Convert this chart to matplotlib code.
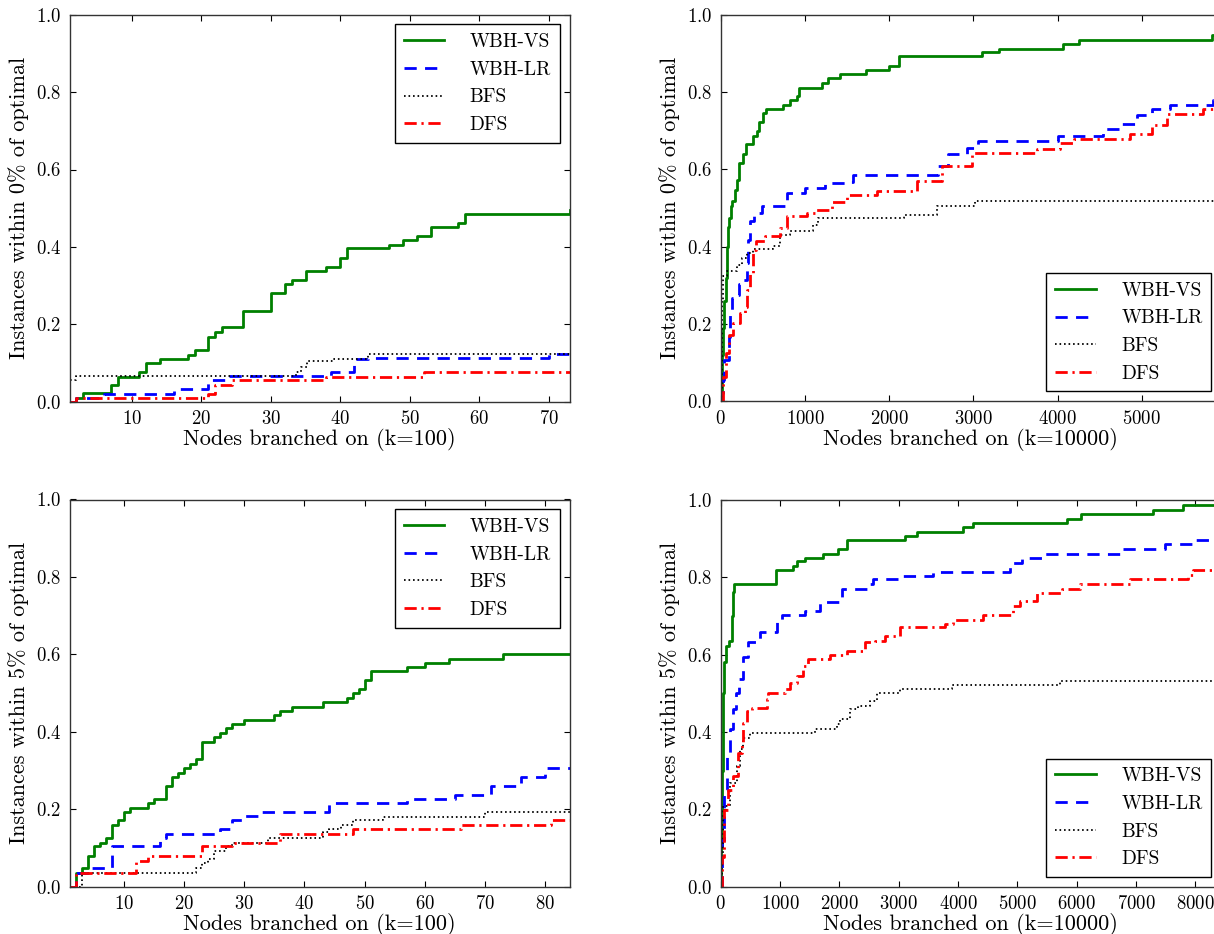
import matplotlib
matplotlib.use('Agg')
import matplotlib.pyplot as plt
from matplotlib.ticker import MultipleLocator

plt.rcParams['font.family'] = ['cmr10', 'DejaVu Serif']
plt.rcParams['mathtext.fontset'] = 'cm'
plt.rcParams['axes.formatter.use_mathtext'] = True

labels = ['WBH-VS', 'WBH-LR', 'BFS', 'DFS']

# top left: within 0%, k=100
tl_vs_x = [1, 2, 3, 7, 8, 11, 12, 14, 18, 19, 21, 22, 23, 26, 30, 32, 33, 35, 38, 40, 41, 47, 49, 51, 53, 57, 58, 73]
tl_vs_y = [0, 0.01, 0.022, 0.043, 0.065, 0.078, 0.101, 0.111, 0.121, 0.134, 0.167, 0.179, 0.192, 0.235, 0.281,
           0.305, 0.315, 0.338, 0.349, 0.372, 0.396, 0.405, 0.418, 0.429, 0.451, 0.461, 0.485, 0.495]
tl_lr_x = [1, 2, 6, 16, 21, 24, 38.6, 42, 44, 70]
tl_lr_y = [0, 0.01, 0.021, 0.032, 0.055, 0.066, 0.077, 0.11, 0.113, 0.123]
tl_bfs_x = [1, 2, 33.6, 34.3, 35.2, 39, 44]
tl_bfs_y = [0.057, 0.067, 0.078, 0.089, 0.104, 0.111, 0.122]
tl_dfs_x = [1, 2, 21, 22, 24.4, 38, 52]
tl_dfs_y = [0, 0.009, 0.019, 0.043, 0.055, 0.065, 0.078]

# top right: within 0%, k=10000
tr_vs_x = [0, 10, 20, 30, 45, 60, 75, 90, 102, 122, 140, 170, 194, 221, 261, 297, 387, 427, 455, 506, 538, 744,
           823, 910, 934, 1199, 1278, 1417, 1722, 1999, 2118, 3099, 3309, 4069, 4259, 5830]
tr_vs_y = [0, 0.06, 0.12, 0.19, 0.26, 0.32, 0.40, 0.45, 0.474, 0.505, 0.518, 0.548, 0.574, 0.617, 0.641, 0.665,
           0.686, 0.700, 0.723, 0.745, 0.756, 0.767, 0.779, 0.790, 0.812, 0.823, 0.836, 0.846, 0.857, 0.869,
           0.893, 0.903, 0.913, 0.926, 0.936, 0.949]
tr_lr_x = [0, 10, 24, 39, 102, 110, 130, 170, 221, 261, 309, 328, 348, 396, 487, 784, 1001, 1239, 1476, 1575,
           2584, 2703, 2921, 3060, 4000, 4544, 4742, 4940, 5119, 5336, 5850]
tr_lr_y = [0, 0.02, 0.055, 0.106, 0.167, 0.228, 0.267, 0.275, 0.304, 0.314, 0.358, 0.418, 0.466, 0.487, 0.506,
           0.539, 0.552, 0.565, 0.567, 0.587, 0.610, 0.639, 0.656, 0.673, 0.687, 0.706, 0.719, 0.740, 0.756,
           0.766, 0.780]
tr_bfs_x = [0, 12, 31, 71, 190, 249, 309, 387, 625, 704, 823, 1100, 1159, 2177, 2565, 3020]
tr_bfs_y = [0, 0.262, 0.323, 0.336, 0.353, 0.371, 0.384, 0.394, 0.401, 0.431, 0.440, 0.457, 0.474, 0.483,
            0.505, 0.518]
tr_dfs_x = [0, 31, 63, 102, 150, 229, 289, 309, 348, 387, 419, 526, 704, 791, 1021, 1120, 1318, 1496, 1852,
            2327, 2624, 2981, 3753, 4029, 4200, 4861, 5119, 5297, 5731]
tr_dfs_y = [0, 0.063, 0.124, 0.171, 0.202, 0.228, 0.245, 0.288, 0.332, 0.392, 0.414, 0.427, 0.449, 0.479,
            0.487, 0.496, 0.515, 0.535, 0.544, 0.570, 0.609, 0.642, 0.652, 0.668, 0.680, 0.691, 0.714, 0.743,
            0.756]

# bottom left: within 5%, k=100
bl_vs_x = [1, 2, 3, 4, 5, 6, 7, 8, 9, 10, 11, 14, 15, 17, 18, 19, 20, 21, 22, 23, 25, 26, 27, 28, 30, 35, 36,
           38, 43, 47, 48, 49, 50, 51, 57, 60, 64, 73]
bl_vs_y = [0, 0.035, 0.048, 0.080, 0.104, 0.114, 0.125, 0.160, 0.171, 0.193, 0.203, 0.216, 0.227, 0.261, 0.283,
           0.294, 0.306, 0.318, 0.330, 0.374, 0.387, 0.398, 0.409, 0.420, 0.431, 0.443, 0.454, 0.465, 0.478,
           0.487, 0.499, 0.510, 0.534, 0.556, 0.567, 0.578, 0.588, 0.600]
bl_lr_x = [1, 2, 4, 8, 16, 17, 26, 28, 30, 33, 44, 57, 65, 71, 76, 80]
bl_lr_y = [0, 0.035, 0.048, 0.104, 0.125, 0.136, 0.149, 0.171, 0.182, 0.193, 0.216, 0.227, 0.238, 0.260,
           0.283, 0.306]
bl_bfs_x = [1, 3, 22, 23, 24, 25, 27, 28, 34, 43, 44, 46, 48, 53, 70, 84]
bl_bfs_y = [0, 0.035, 0.048, 0.061, 0.071, 0.093, 0.104, 0.114, 0.125, 0.140, 0.149, 0.160, 0.171, 0.180,
            0.193, 0.199]
bl_dfs_x = [1, 2, 12, 14, 23, 28, 36, 48, 66, 81]
bl_dfs_y = [0, 0.035, 0.067, 0.080, 0.104, 0.114, 0.137, 0.149, 0.160, 0.172]

# bottom right: within 5%, k=10000
br_vs_x = [0, 5, 10, 17, 25, 34, 45, 56, 90, 146, 185, 213, 230, 933, 1225, 1281, 1421, 1730, 1983, 2124, 3107,
           3303, 4090, 4258, 5843, 6067, 7281, 7798]
br_vs_y = [0, 0.05, 0.10, 0.165, 0.30, 0.442, 0.50, 0.58, 0.623, 0.636, 0.701, 0.762, 0.784, 0.818, 0.829,
           0.842, 0.851, 0.861, 0.874, 0.896, 0.907, 0.918, 0.931, 0.940, 0.952, 0.964, 0.974, 0.987]
br_lr_x = [0, 17, 56, 101, 157, 213, 258, 315, 371, 466, 663, 944, 1028, 1421, 1674, 2011, 2039, 2517, 2573,
           3022, 3584, 4876, 5073, 5466, 6730, 7489, 7938]
br_lr_y = [0, 0.121, 0.251, 0.338, 0.407, 0.459, 0.502, 0.537, 0.593, 0.632, 0.658, 0.684, 0.703, 0.714,
           0.736, 0.749, 0.771, 0.784, 0.797, 0.803, 0.815, 0.838, 0.850, 0.861, 0.873, 0.885, 0.896]
br_bfs_x = [0, 17, 45, 157, 270, 326, 382, 494, 1590, 1955, 2011, 2180, 2320, 2517, 2629, 3022, 3893, 5719]
br_bfs_y = [0, 0.078, 0.208, 0.268, 0.312, 0.355, 0.385, 0.397, 0.407, 0.420, 0.433, 0.459, 0.468, 0.481,
            0.500, 0.511, 0.521, 0.532]
br_dfs_x = [0, 17, 56, 129, 213, 298, 354, 382, 438, 522, 775, 803, 1084, 1169, 1281, 1393, 1478, 1843, 2124,
            2433, 2601, 2770, 3022, 3781, 3921, 4427, 4933, 5045, 5326, 5747, 6056, 6899, 7882, 7966]
br_dfs_y = [0, 0.078, 0.199, 0.251, 0.286, 0.346, 0.372, 0.424, 0.455, 0.463, 0.485, 0.502, 0.511, 0.528,
            0.545, 0.571, 0.589, 0.600, 0.610, 0.632, 0.636, 0.649, 0.671, 0.680, 0.690, 0.703, 0.727, 0.739,
            0.760, 0.771, 0.784, 0.795, 0.807, 0.818]

styles = [dict(color='#008000', lw=2.0, ls='-'),
          dict(color='#0000ff', lw=2.0, dashes=(4.4, 3.0)),
          dict(color='black', lw=1.3, dashes=(0.9, 1.6)),
          dict(color='#ff0000', lw=2.0, dashes=(4.4, 1.7, 0.8, 1.7))]

fig = plt.figure(figsize=(12.14, 9.34), dpi=100)
W, H = 1214.0, 934.0


def panel(rect, series, xmax, xmin, xstep, ylabel, xlabel, loc):
    l, t, r, b = rect
    ax = fig.add_axes([l / W, (H - b) / H, (r - l) / W, (b - t) / H])
    for (x, y), st, lab in zip(series, styles, labels):
        ax.step(list(x) + [xmax], list(y) + [y[-1]], where='post', label=lab, **st)
    ax.set_xlim(xmin, xmax)
    ax.set_ylim(0, 1.0)
    ax.xaxis.set_major_locator(MultipleLocator(xstep))
    ax.yaxis.set_major_locator(MultipleLocator(0.2))
    ax.tick_params(direction='in', top=True, right=True, length=4.5, width=0.8, labelsize=13.5, pad=6)
    for sp in ax.spines.values():
        sp.set_linewidth(1.0)
        sp.set_color('#333333')
    ax.set_ylabel(ylabel, fontsize=16, labelpad=5)
    ax.set_xlabel(xlabel, fontsize=16, labelpad=0)
    leg = ax.legend(loc=loc, fontsize=14, handlelength=2.1, handletextpad=1.3,
                    labelspacing=0.5, borderpad=0.45, fancybox=False, framealpha=1)
    leg.get_frame().set_edgecolor('black')
    leg.get_frame().set_linewidth(1.0)
    return ax


panel((69.5, 14.7, 569.5, 401.7),
      [(tl_vs_x, tl_vs_y), (tl_lr_x, tl_lr_y), (tl_bfs_x, tl_bfs_y), (tl_dfs_x, tl_dfs_y)],
      73, 1, 10, 'Instances within 0% of optimal', 'Nodes branched on (k=100)', 'upper right')
panel((720.7, 15.0, 1221.0, 401.2),
      [(tr_vs_x, tr_vs_y), (tr_lr_x, tr_lr_y), (tr_bfs_x, tr_bfs_y), (tr_dfs_x, tr_dfs_y)],
      5940, 0, 1000, 'Instances within 0% of optimal', 'Nodes branched on (k=10000)', 'lower right')
panel((69.5, 499.5, 569.5, 886.7),
      [(bl_vs_x, bl_vs_y), (bl_lr_x, bl_lr_y), (bl_bfs_x, bl_bfs_y), (bl_dfs_x, bl_dfs_y)],
      84, 1, 10, 'Instances within 5% of optimal', 'Nodes branched on (k=100)', 'upper right')
panel((720.7, 500.0, 1221.0, 886.7),
      [(br_vs_x, br_vs_y), (br_lr_x, br_lr_y), (br_bfs_x, br_bfs_y), (br_dfs_x, br_dfs_y)],
      8430, 0, 1000, 'Instances within 5% of optimal', 'Nodes branched on (k=10000)', 'lower right')

fig.savefig('out.png', dpi=100, facecolor='white')
